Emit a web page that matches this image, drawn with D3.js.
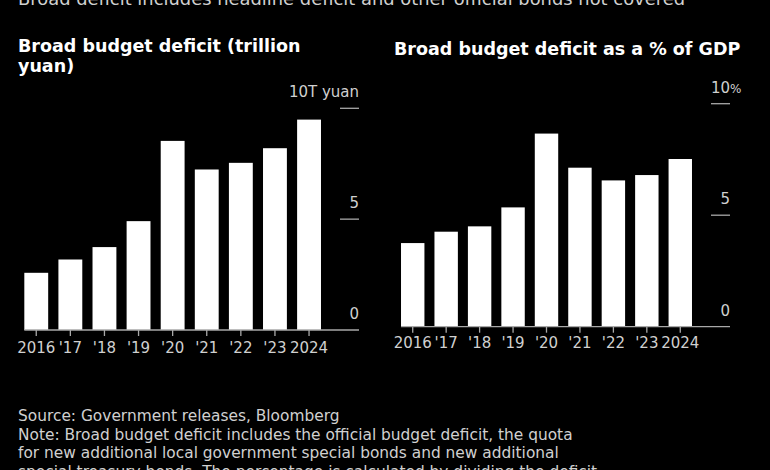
<!DOCTYPE html>
<html><head><meta charset="utf-8">
<script src="https://cdn.jsdelivr.net/npm/d3@7"></script>
<style>
html,body{margin:0;padding:0;background:#000;}
svg{display:block;}
text{font-family:"DejaVu Sans",Verdana,sans-serif;}
</style></head>
<body>
<svg id="chart" width="770" height="470"></svg>
<script>
// ---- data ----
const years = ["2016","'17","'18","'19","'20","'21","'22","'23","2024"];
const deficitTrillion = [2.58, 3.18, 3.74, 4.91, 8.53, 7.24, 7.54, 8.20, 9.49];
const deficitPctGDP = [3.75, 4.26, 4.50, 5.35, 8.66, 7.13, 6.56, 6.80, 7.52];
const yTickValues = [0, 5, 10];
const leftTickLabels = ["0", "5", "10T yuan"];
const rightTickLabels = ["0", "5", "10"];
const subtitle = "Broad deficit includes headline deficit and other official bonds not covered";
const leftTitle = ["Broad budget deficit (trillion", "yuan)"];
const rightTitle = ["Broad budget deficit as a % of GDP"];
const footer = [
  "Source: Government releases, Bloomberg",
  "Note: Broad budget deficit includes the official budget deficit, the quota",
  "for new additional local government special bonds and new additional",
  "special treasury bonds. The percentage is calculated by dividing the deficit"
];

const svg = d3.select("#chart");
svg.append("rect").attr("width",770).attr("height",470).attr("fill","#000");

const textCol = "#d0d0d0", axisCol = "#a8a8a8";

svg.append("text").attr("x",18).attr("y",5).attr("fill",textCol)
  .attr("font-size",17.9).text(subtitle);

function panel(o){
  const g = svg.append("g");
  g.selectAll("text.title").data(o.title).join("text").attr("class","title")
    .attr("x",o.titleX).attr("y",(d,i)=>o.titleY+i*20)
    .attr("fill","#fff").attr("font-size",17.5).attr("font-weight","bold").text(d=>d);

  const x = d3.scaleBand().domain(years).range(o.xRange).paddingInner(0.3).paddingOuter(0.15);
  const y = d3.scaleLinear().domain([0,10]).range(o.yRange);

  // y ticks
  g.selectAll("line.yt").data(yTickValues.filter(v=>v>0)).join("line").attr("class","yt")
    .attr("x1",o.axisEnd-19).attr("x2",o.axisEnd).attr("y1",d=>y(d)).attr("y2",d=>y(d))
    .attr("stroke",axisCol).attr("stroke-width",1.3);
  g.selectAll("text.yl").data(yTickValues).join("text").attr("class","yl")
    .attr("x",o.axisEnd).attr("y",d=>y(d)-11).attr("text-anchor","end")
    .attr("fill",textCol).attr("font-size",15).text((d,i)=>o.tickLabels[i]);
  if(o.pct){
    g.append("text").attr("x",o.axisEnd).attr("y",y(10)-11).attr("fill",textCol)
      .attr("font-size",12).text("%");
  }

  // bars
  g.selectAll("rect.bar").data(o.values).join("rect").attr("class","bar")
    .attr("x",(d,i)=>x(years[i])).attr("width",x.bandwidth())
    .attr("y",d=>y(d)).attr("height",d=>y(0)-y(d)).attr("fill","#fff");

  // x axis
  const xa = g.append("g").attr("transform",`translate(0,${y(0)})`)
    .call(d3.axisBottom(x).tickSize(6).tickSizeOuter(0));
  xa.select(".domain").remove();
  xa.selectAll(".tick line").attr("stroke",axisCol).attr("stroke-width",1.3);
  xa.selectAll(".tick text").attr("fill",textCol).attr("font-size",15)
    .attr("font-family","'DejaVu Sans',sans-serif").attr("dy",null).attr("y",o.labelDy);
  g.append("line").attr("x1",o.xRange[0]+x.step()*0.15).attr("x2",o.axisEnd)
    .attr("y1",y(0)).attr("y2",y(0)).attr("stroke",axisCol).attr("stroke-width",1.3);
}

panel({title:leftTitle,titleX:18,titleY:51.7,values:deficitTrillion,xRange:[19.2,326.1],
  yRange:[330,108.3],axisEnd:359,tickLabels:leftTickLabels,labelDy:22.7});
panel({title:rightTitle,titleX:394,titleY:55.3,values:deficitPctGDP,xRange:[396,697],
  yRange:[326.7,103.7],axisEnd:730,tickLabels:rightTickLabels,labelDy:21.6,pct:true});

svg.selectAll("text.foot").data(footer).join("text").attr("class","foot")
  .attr("x",18).attr("y",(d,i)=>421.2+i*18.6).attr("fill",textCol)
  .attr("font-size",15.4).text(d=>d);
</script>
</body></html>
